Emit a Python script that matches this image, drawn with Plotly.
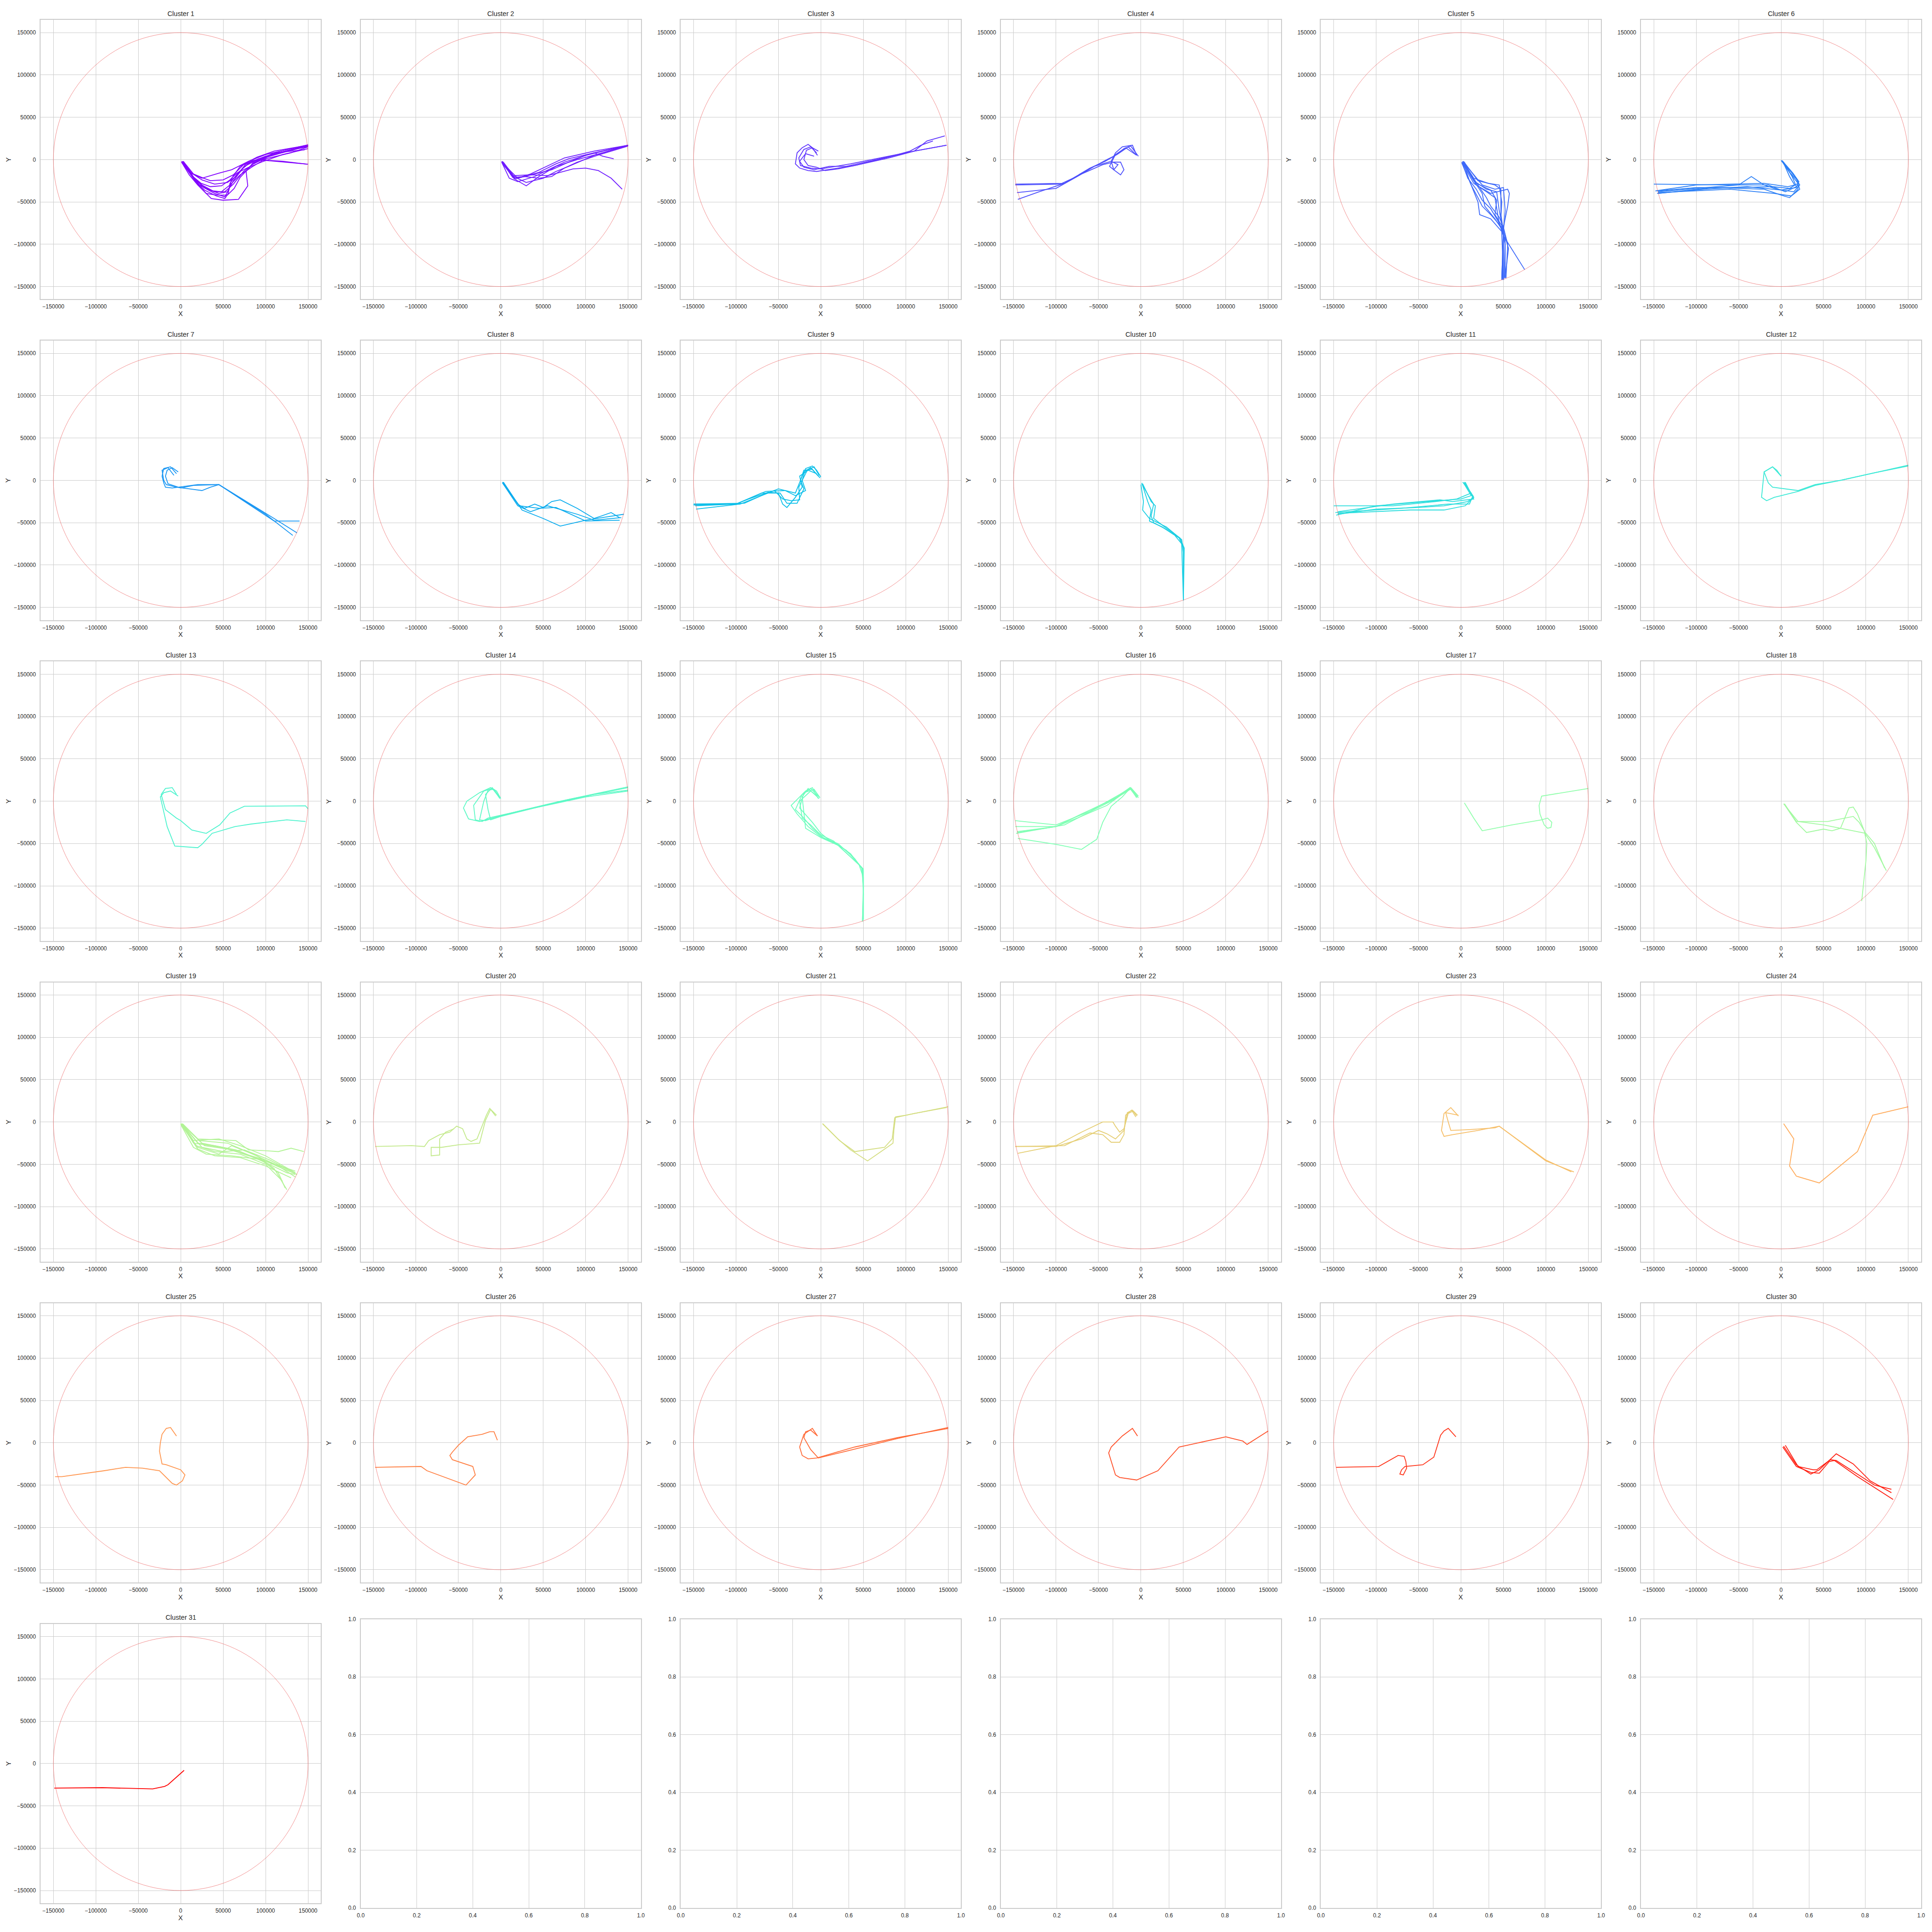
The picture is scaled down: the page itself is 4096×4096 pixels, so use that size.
import plotly.graph_objects as go

# ---------------- data: trajectories per cluster, each a list of (x, y) points ----------------
C01 = [
    [(1000,-3000),(12000,-16000),(25000,-22000),(45000,-16000),(60000,-12000),(80000,-2000),(100000,6000),(150000,17500)],
    [(3000,-2000),(15000,-17000),(27000,-22000),(35000,-25000),(50000,-24000),(62000,-18000),(75000,-5000),(90000,3000),(110000,10000),(150000,17000)],
    [(2000,-3000),(14000,-20000),(22000,-30000),(32000,-35000),(45000,-40000),(55000,-38000),(62000,-25000),(75000,-8000),(95000,2000),(150000,16000)],
    [(1000,-3000),(10000,-18000),(20000,-30000),(36000,-46000),(50000,-48000),(68000,-47000),(79000,-31000),(77000,-14000),(85000,-4000),(110000,8000),(146000,11500)],
    [(3000,-2000),(16000,-22000),(27000,-33000),(40000,-40000),(52000,-44000),(57000,-35000),(60000,-22000),(70000,-8000),(85000,-1000),(100000,-1000),(150000,-5500)],
    [(2000,-3000),(14000,-21000),(25000,-30000),(38000,-37000),(48000,-38000),(58000,-30000),(70000,-18000),(85000,-8000),(100000,1000),(130000,8000),(150000,15000)],
    [(1000,-2000),(17000,-25000),(28000,-36000),(42000,-43000),(52000,-46000),(56000,-40000),(58000,-28000),(68000,-15000),(82000,-3000),(100000,4000),(150000,17000)],
    [(2000,-2000),(13000,-16000),(25000,-24000),(40000,-29000),(55000,-27000),(65000,-20000),(76000,-6000),(92000,1000),(104000,-1000),(120000,-2000),(149000,-5500)],
    [(3000,-3000),(15000,-22000),(30000,-34000),(40000,-38000),(52000,-38000),(62000,-29000),(74000,-14000),(88000,-3000),(110000,7000),(150000,15500)],
    [(1000,-3000),(12000,-18000),(24000,-28000),(35000,-32000),(48000,-31000),(58000,-24000),(66000,-16000),(78000,-10000),(95000,-3000),(120000,6000),(150000,13000)],
    [(2000,-2000),(18000,-27000),(30000,-40000),(42000,-42000),(55000,-42000),(63000,-34000),(70000,-21000),(84000,-6000),(102000,3000),(150000,17000)],
]
C02 = [
    [(2000,-2000),(12000,-18000),(20000,-22000),(40000,-17000),(60000,-12000),(80000,-3000),(100000,5000),(150000,17000)],
    [(3000,-4000),(15000,-20000),(30000,-27000),(50000,-22000),(65000,-14000),(80000,-8000),(110000,5000),(150000,17000)],
    [(1000,-3000),(10000,-22000),(20000,-26000),(40000,-20000),(60000,-10000),(75000,-3000),(110000,8000),(150000,17000)],
    [(2000,-5000),(18000,-24000),(30000,-31000),(45000,-20000),(65000,-8000),(90000,0),(120000,8000),(150000,17000)],
    [(3000,-3000),(15000,-19000),(35000,-18000),(55000,-19000),(70000,-15000),(85000,-11000),(100000,-10000),(115000,-13000),(130000,-22000),(143000,-35000)],
    [(2000,-4000),(20000,-22000),(45000,-15000),(65000,-5000),(80000,1000),(110000,8000),(120000,4000),(133000,1000)],
    [(1000,-2000),(14000,-21000),(28000,-20000),(45000,-22000),(60000,-20000),(75000,-10000),(90000,-3000),(120000,7000),(150000,16000)],
    [(2000,-4000),(16000,-23000),(35000,-17000),(50000,-10000),(75000,2000),(110000,10000),(150000,17000)],
]
C03 = [
    [(-4000,5000),(-10000,14000),(-15000,18000),(-22000,14000),(-28000,8000),(-30000,-5000),(-25000,-10000),(-15000,-13000),(-5000,-14000),(20000,-10000),(40000,-7000),(80000,2000),(110000,10000),(125000,22000),(146000,28000)],
    [(-5000,8000),(-12000,15000),(-20000,12000),(-26000,2000),(-24000,-7000),(-12000,-10000),(0,-11000),(35000,-5000),(80000,4000),(110000,10000),(148000,17000)],
    [(-3000,10000),(-10000,14000),(-17000,11000),(-20000,0),(-15000,-7000),(-5000,-9000),(5000,-13000),(20000,-11000),(40000,-7000),(80000,3000),(105000,10000),(118000,17000),(132000,22000)],
    [(-8000,4000),(-18000,7000),(-25000,-2000),(-20000,-9000),(-8000,-12000),(10000,-8000),(30000,-8000),(70000,1000),(110000,10000),(148000,17000)],
]
C04 = [
    [(-5000,5000),(-10000,17000),(-22000,15000),(-30000,8000),(-35000,-2000),(-32000,-12000),(-24000,-18000),(-20000,-12000),(-24000,-3000),(-32000,-3000),(-45000,-6000),(-70000,-17000),(-90000,-28000),(-148000,-29000)],
    [(-3000,4000),(-12000,16000),(-20000,13000),(-30000,5000),(-42000,-2000),(-60000,-10000),(-90000,-28000),(-120000,-38000),(-145000,-47000)],
    [(-6000,6000),(-15000,15000),(-28000,6000),(-40000,0),(-55000,-8000),(-75000,-20000),(-100000,-34000),(-146000,-39000)],
    [(-5000,5000),(-18000,14000),(-30000,6000),(-37000,-8000),(-32000,-12000),(-27000,-6000),(-35000,-2000),(-55000,-8000),(-80000,-22000),(-95000,-29000),(-148000,-30000)],
]
C05 = [
    [(2000,-3000),(15000,-25000),(30000,-35000),(42000,-38000),(45000,-60000),(50000,-85000),(49000,-140000)],
    [(3000,-2000),(20000,-25000),(40000,-30000),(47000,-35000),(47000,-65000),(50000,-85000),(48000,-142000)],
    [(1000,-4000),(12000,-30000),(20000,-45000),(25000,-55000),(35000,-65000),(48000,-80000),(52000,-100000),(52000,-140000)],
    [(2000,-3000),(18000,-30000),(35000,-40000),(55000,-35000),(57000,-40000),(55000,-55000),(50000,-80000),(55000,-100000),(53000,-140000)],
    [(3000,-4000),(10000,-25000),(20000,-50000),(22000,-65000),(35000,-70000),(48000,-85000),(50000,-142000)],
    [(1000,-3000),(15000,-28000),(30000,-38000),(40000,-45000),(45000,-75000),(50000,-90000),(75000,-130000)],
    [(2000,-2000),(25000,-30000),(40000,-35000),(50000,-33000),(52000,-60000),(50000,-85000),(50000,-141000)],
    [(4000,-3000),(12000,-20000),(25000,-40000),(28000,-55000),(40000,-70000),(50000,-85000),(48000,-140000)],
    [(2000,-2000),(18000,-28000),(35000,-36000),(42000,-48000),(40000,-65000),(48000,-78000),(56000,-105000),(52000,-138000)],
    [(3000,-3000),(15000,-22000),(32000,-28000),(45000,-30000),(48000,-50000),(47000,-70000),(50000,-90000),(49000,-142000)],
    [(1000,-3000),(8000,-22000),(18000,-35000),(25000,-48000),(35000,-58000),(45000,-75000),(52000,-95000),(51000,-140000)],
    [(2000,-3000),(20000,-30000),(30000,-45000),(35000,-55000),(45000,-68000),(50000,-80000),(50000,-142000)],
]
C06 = [
    [(2000,-2000),(10000,-15000),(20000,-25000),(20000,-35000),(10000,-45000),(0,-42000),(-20000,-35000),(-80000,-33000),(-145000,-40000)],
    [(0,-1000),(15000,-18000),(22000,-30000),(15000,-38000),(-5000,-35000),(-20000,-30000),(-35000,-20000),(-50000,-30000),(-100000,-34000),(-145000,-38000)],
    [(3000,-3000),(13000,-20000),(18000,-32000),(5000,-38000),(-15000,-30000),(-60000,-30000),(-150000,-29000)],
    [(1000,-2000),(12000,-18000),(20000,-28000),(10000,-34000),(-10000,-32000),(-50000,-33000),(-100000,-33000),(-145000,-37000)],
    [(2000,-3000),(18000,-22000),(22000,-35000),(12000,-43000),(-8000,-40000),(-60000,-35000),(-145000,-39000)],
    [(2000,-2000),(10000,-20000),(16000,-30000),(8000,-32000),(-20000,-28000),(-100000,-30000),(-148000,-37000)],
    [(1000,-1000),(14000,-16000),(21000,-26000),(18000,-33000),(0,-36000),(-40000,-32000),(-90000,-35000),(-146000,-40000)],
]
C07 = [
    [(-5000,8000),(-12000,16000),(-20000,14000),(-22000,5000),(-20000,-3000),(-18000,-8000),(-10000,-9000),(20000,-5000),(45000,-5000),(110000,-48000),(140000,-48000)],
    [(-8000,6000),(-15000,15000),(-22000,12000),(-20000,0),(-17000,-5000),(-5000,-8000),(10000,-10000),(25000,-12000),(35000,-8000),(45000,-5000),(100000,-40000),(132000,-65000)],
    [(-3000,10000),(-10000,15000),(-16000,12000),(-18000,5000),(-15000,-4000),(0,-9000),(15000,-6000),(45000,-5000),(110000,-45000),(137000,-62000)],
]
C08 = [
    [(2000,-2000),(20000,-28000),(28000,-33000),(40000,-28000),(50000,-32000),(60000,-25000),(70000,-23000),(90000,-33000),(110000,-45000),(130000,-38000),(140000,-44000)],
    [(2000,-3000),(22000,-30000),(45000,-33000),(65000,-32000),(100000,-48000),(140000,-47000)],
    [(3000,-2000),(25000,-35000),(50000,-45000),(70000,-54000),(100000,-47000),(145000,-40000)],
    [(2000,-3000),(20000,-30000),(35000,-37000),(55000,-30000),(90000,-40000),(110000,-47000),(142000,-44000)],
]
C09 = [
    [(0,4000),(-5000,12000),(-10000,17000),(-18000,14000),(-22000,0),(-18000,-12000),(-30000,-18000),(-42000,-12000),(-50000,-10000),(-70000,-18000),(-90000,-27000),(-150000,-28000)],
    [(-2000,6000),(-8000,16000),(-16000,12000),(-22000,0),(-26000,-8000),(-25000,-23000),(-35000,-24000),(-45000,-22000),(-55000,-12000),(-75000,-20000),(-95000,-28000),(-147000,-34000)],
    [(-3000,5000),(-12000,15000),(-20000,10000),(-25000,-2000),(-30000,-15000),(-42000,-12000),(-65000,-13000),(-100000,-28000),(-150000,-29000)],
    [(-5000,8000),(-15000,12000),(-25000,5000),(-22000,-8000),(-30000,-20000),(-40000,-32000),(-45000,-28000),(-50000,-15000),(-70000,-15000),(-100000,-28000),(-148000,-30000)],
    [(-1000,3000),(-10000,13000),(-20000,12000),(-24000,0),(-20000,-10000),(-28000,-27000),(-40000,-27000),(-48000,-15000),(-62000,-14000),(-85000,-22000),(-100000,-28000),(-149000,-28000)],
]
C10 = [
    [(1000,-4000),(10000,-20000),(15000,-28000),(12000,-42000),(15000,-50000),(30000,-58000),(45000,-68000),(50000,-80000),(50000,-142000)],
    [(0,-5000),(3000,-25000),(2000,-35000),(10000,-45000),(30000,-55000),(48000,-70000),(50000,-85000),(50000,-140000)],
    [(1000,-3000),(8000,-25000),(12000,-35000),(10000,-48000),(25000,-55000),(40000,-65000),(48000,-75000),(50000,-140000)],
    [(2000,-4000),(12000,-25000),(17000,-30000),(15000,-45000),(28000,-55000),(46000,-68000),(51000,-80000),(50000,-141000)],
]
C11 = [
    [(5000,-2000),(10000,-12000),(15000,-20000),(8000,-25000),(-20000,-30000),(-50000,-32000),(-100000,-34000),(-145000,-40000)],
    [(3000,-3000),(14000,-18000),(10000,-28000),(-15000,-28000),(-70000,-33000),(-148000,-38000)],
    [(4000,-3000),(15000,-20000),(5000,-30000),(-20000,-35000),(-60000,-35000),(-145000,-39000)],
    [(2000,-2000),(12000,-15000),(-5000,-22000),(-30000,-25000),(-80000,-30000),(-150000,-30000)],
    [(4000,-2000),(15000,-22000),(-10000,-25000),(-25000,-23000),(-80000,-28000),(-145000,-37000)],
    [(3000,-3000),(12000,-18000),(0,-22000),(-40000,-25000),(-100000,-30000),(-147000,-41000)],
]
C12 = [
    [(0,5000),(-5000,12000),(-10000,16000),(-20000,10000),(-21000,0),(-23000,-20000),(-17000,-24000),(-8000,-20000),(0,-18000),(20000,-13000),(40000,-6000),(70000,0),(110000,9000),(150000,18000)],
    [(0,5000),(-10000,16000),(-20000,10000),(-15000,-3000),(-10000,-8000),(5000,-10000),(20000,-12000),(40000,-5000),(70000,0),(110000,9000),(150000,17000)],
]
C13 = [
    [(-5000,8000),(-10000,16000),(-18000,15000),(-23000,8000),(-18000,-10000),(-5000,-20000),(0,-23000),(13000,-34000),(30000,-38000),(46000,-28000),(58000,-14000),(75000,-6000),(147000,-5500),(150000,-9000)],
    [(-3000,6000),(-12000,12000),(-20000,10000),(-24000,5000),(-16000,-30000),(-7000,-53000),(20000,-55000),(25000,-51000),(37000,-38000),(64000,-30000),(83000,-27000),(125000,-22000),(147000,-24000)],
]
C14 = [
    [(0,3000),(-5000,12000),(-12000,16000),(-25000,10000),(-40000,0),(-44000,-8000),(-38000,-21000),(-25000,-24000),(-10000,-20000),(20000,-12000),(70000,0),(150000,17000)],
    [(-2000,5000),(-10000,15000),(-20000,12000),(-32000,-5000),(-30000,-22000),(-22000,-24000),(-15000,-20000),(30000,-10000),(100000,5000),(150000,12000)],
    [(-1000,4000),(-8000,14000),(-15000,13000),(-20000,0),(-25000,-22000),(-18000,-23000),(0,-17000),(50000,-5000),(110000,8000),(150000,13000)],
    [(-1000,3000),(-10000,16000),(-18000,8000),(-15000,-10000),(-12000,-22000),(0,-18000),(80000,2000),(150000,16000)],
]
C15 = [
    [(-3000,3000),(-10000,16000),(-18000,12000),(-35000,-5000),(-28000,-15000),(-15000,-30000),(0,-42000),(15000,-48000),(35000,-62000),(49000,-80000),(50000,-110000),(49000,-142000)],
    [(-2000,5000),(-12000,15000),(-22000,8000),(-30000,-10000),(-20000,-20000),(-10000,-32000),(5000,-45000),(20000,-50000),(40000,-68000),(50000,-82000),(50000,-140000)],
    [(-1000,4000),(-8000,14000),(-20000,10000),(-25000,-8000),(-10000,-25000),(0,-38000),(10000,-46000),(30000,-58000),(48000,-78000),(50000,-100000),(49000,-142000)],
    [(-2000,3000),(-15000,15000),(-22000,5000),(-20000,-15000),(-18000,-32000),(0,-43000),(20000,-52000),(45000,-75000),(50000,-90000),(50000,-140000)],
    [(-4000,6000),(-12000,12000),(-25000,0),(-22000,-20000),(-12000,-28000),(0,-40000),(15000,-47000),(50000,-80000),(50000,-140000)],
]
C16 = [
    [(-4000,5000),(-12000,16000),(-25000,8000),(-60000,-12000),(-100000,-28000),(-148000,-23000)],
    [(-3000,6000),(-11000,15000),(-30000,3000),(-70000,-15000),(-100000,-30000),(-148000,-30000)],
    [(-5000,4000),(-13000,16000),(-35000,0),(-65000,-15000),(-90000,-28000),(-147000,-38000)],
    [(-4000,5000),(-12000,15000),(-28000,5000),(-55000,-8000),(-80000,-20000),(-100000,-30000),(-145000,-37000)],
    [(-3000,4000),(-12000,16000),(-22000,5000),(-35000,-6000),(-45000,-25000),(-52000,-45000),(-70000,-57000),(-100000,-51000),(-145000,-44000)],
    [(-5000,5000),(-13000,15000),(-40000,-5000),(-75000,-20000),(-100000,-30000),(-146000,-36000)],
]
C17 = [
    [(4000,-2000),(15000,-20000),(25000,-35000),(60000,-28000),(95000,-22000),(102000,-20000),(107000,-25000),(106000,-31000),(102000,-32000),(98000,-28000),(93000,-15000),(92000,-5000),(95000,6000),(150000,15000)],
]
C18 = [
    [(4000,-3000),(18000,-24000),(55000,-24000),(85000,-18000),(92000,-25000),(98000,-35000),(101000,-50000),(100000,-70000),(95000,-118000)],
    [(4000,-4000),(18000,-25000),(30000,-37000),(50000,-33000),(60000,-35000),(70000,-32000),(75000,-20000),(80000,-8000),(85000,-7000),(90000,-15000),(100000,-40000),(110000,-55000),(124000,-82000)],
    [(3000,-3000),(20000,-24000),(50000,-28000),(70000,-32000),(100000,-38000),(110000,-50000),(122000,-79000)],
]
C19 = [
    [(1000,-2000),(20000,-20000),(65000,-22000),(80000,-33000),(100000,-34000),(115000,-35000),(130000,-31000),(145000,-35000)],
    [(2000,-3000),(15000,-25000),(35000,-28000),(70000,-35000),(100000,-48000),(125000,-60000),(135000,-62000)],
    [(0,-2000),(20000,-30000),(45000,-38000),(60000,-28000),(90000,-40000),(110000,-55000),(125000,-80000)],
    [(3000,-3000),(25000,-25000),(50000,-30000),(80000,-40000),(110000,-50000),(135000,-58000)],
    [(1000,-4000),(18000,-28000),(40000,-35000),(70000,-38000),(100000,-50000),(120000,-70000)],
    [(2000,-2000),(22000,-22000),(55000,-25000),(85000,-38000),(115000,-52000),(135000,-65000)],
    [(0,-3000),(15000,-30000),(30000,-38000),(60000,-40000),(100000,-45000),(135000,-60000)],
    [(2000,-3000),(25000,-30000),(50000,-35000),(75000,-33000),(105000,-45000),(130000,-58000)],
    [(1000,-2000),(20000,-25000),(40000,-28000),(65000,-33000),(95000,-45000),(115000,-60000),(123000,-78000)],
    [(3000,-4000),(15000,-22000),(45000,-20000),(70000,-28000),(100000,-40000),(135000,-60000)],
    [(0,-2000),(20000,-32000),(40000,-40000),(70000,-42000),(100000,-52000),(130000,-66000)],
    [(2000,-3000),(28000,-28000),(55000,-32000),(90000,-42000),(120000,-55000),(137000,-62000)],
]
C20 = [
    [(-6000,7000),(-13000,16000),(-17000,8000),(-22000,-5000),(-28000,-20000),(-35000,-23000),(-40000,-20000),(-45000,-8000),(-52000,-5000),(-60000,-12000),(-72000,-15000),(-85000,-22000),(-90000,-29000),(-105000,-28000),(-148000,-29000)],
    [(-5000,8000),(-12000,15000),(-18000,2000),(-25000,-25000),(-50000,-27000),(-70000,-30000),(-82000,-30000),(-82000,-40000),(-72000,-39000),(-72000,-20000),(-65000,-12000),(-55000,-8000)],
]
C21 = [
    [(2000,-2000),(12000,-12000),(20000,-20000),(35000,-33000),(55000,-46000),(78000,-30000),(85000,-25000),(86000,-10000),(88000,6000),(100000,8000),(150000,18000)],
    [(2000,-2000),(22000,-22000),(40000,-35000),(60000,-32000),(75000,-30000),(84000,-20000),(87000,5000),(110000,10000),(148000,17000)],
]
C22 = [
    [(-5000,7000),(-10000,14000),(-16000,11000),(-20000,-10000),(-24000,-14000),(-30000,-20000),(-40000,-14000),(-50000,-10000),(-70000,-20000),(-100000,-29000),(-148000,-29000)],
    [(-4000,8000),(-9000,13000),(-15000,10000),(-20000,-8000),(-25000,-12000),(-30000,-5000),(-33000,0),(-45000,0),(-70000,-12000),(-100000,-28000),(-145000,-37000)],
    [(-6000,6000),(-11000,14000),(-18000,8000),(-20000,-15000),(-25000,-24000),(-35000,-24000),(-45000,-15000),(-60000,-13000),(-90000,-28000),(-148000,-29000)],
]
C23 = [
    [(-3000,7000),(-12000,17000),(-20000,10000),(-23000,-10000),(-20000,-17000),(-10000,-15000),(20000,-10000),(45000,-5000),(100000,-45000),(130000,-59000)],
    [(-3000,8000),(-18000,11000),(-15000,0),(-12000,-10000),(10000,-9000),(40000,-7000),(45000,-5000),(100000,-46000),(133000,-59000)],
]
C24 = [
    [(3000,-2000),(15000,-20000),(10000,-52000),(18000,-64000),(45000,-72000),(90000,-35000),(108000,8000),(150000,18000)],
]
C25 = [
    [(-5000,8000),(-12000,18000),(-17000,17000),(-22000,10000),(-24000,0),(-25000,-10000),(-22000,-25000),(-17000,-26000),(0,-32000),(5000,-38000),(2000,-45000),(-5000,-50000),(-10000,-48000),(-25000,-33000),(-45000,-30000),(-65000,-29000),(-90000,-33000),(-140000,-40000),(-148000,-40000)],
]
C26 = [
    [(-4000,3000),(-8000,13000),(-13000,13000),(-22000,10000),(-39000,7000),(-50000,-3000),(-57000,-11000),(-60000,-15000),(-57000,-20000),(-33000,-28000),(-30000,-38000),(-41000,-50000),(-87000,-33000),(-94000,-28000),(-148000,-29000)],
]
C27 = [
    [(-4000,8000),(-10000,17000),(-20000,10000),(-25000,-5000),(-22000,-15000),(-15000,-19000),(-5000,-18000),(40000,-5000),(90000,6000),(150000,17000)],
    [(-4000,8000),(-12000,15000),(-18000,13000),(-20000,6000),(-12000,-8000),(-3000,-18000),(30000,-10000),(90000,5000),(150000,18000)],
]
C28 = [
    [(-4000,8000),(-10000,17000),(-22000,8000),(-35000,-5000),(-38000,-12000),(-30000,-38000),(-25000,-41000),(-5000,-44000),(20000,-33000),(45000,-5000),(100000,7000),(120000,2000),(125000,-2000),(150000,14000)],
]
C29 = [
    [(-6000,7000),(-15000,17000),(-20000,14000),(-24000,9000),(-32000,-17000),(-45000,-26000),(-66000,-28000),(-70000,-32000),(-72000,-37000),(-68000,-38000),(-64000,-30000),(-65000,-22000),(-67000,-16000),(-74000,-15000),(-97000,-28000),(-147000,-29000)],
]
C30 = [
    [(3000,-4000),(18000,-26000),(35000,-37000),(45000,-32000),(65000,-13000),(85000,-25000),(105000,-45000),(130000,-59000)],
    [(5000,-3000),(20000,-28000),(38000,-32000),(42000,-32000),(58000,-20000),(65000,-21000),(110000,-50000),(130000,-55000)],
    [(2000,-5000),(18000,-28000),(35000,-35000),(45000,-36000),(57000,-22000),(63000,-21000),(90000,-40000),(132000,-67000)],
]
C31 = [
    [(4000,-8000),(-15000,-25000),(-19000,-27000),(-33000,-30000),(-92000,-28500),(-149000,-29000)],
]

CLUSTERS = [C01, C02, C03, C04, C05, C06, C07, C08, C09, C10, C11, C12, C13, C14, C15, C16,
            C17, C18, C19, C20, C21, C22, C23, C24, C25, C26, C27, C28, C29, C30, C31]
TITLES = [f"Cluster {i + 1}" for i in range(len(CLUSTERS))]

CIRCLE_RADIUS = 150000
AXIS_LIMIT = 165000
TICK_VALS = [-150000, -100000, -50000, 0, 50000, 100000, 150000]
TICK_TEXT = ["\u2212150000", "\u2212100000", "\u221250000", "0", "50000", "100000", "150000"]
EMPTY_TICK_VALS = [0.0, 0.2, 0.4, 0.6, 0.8, 1.0]
EMPTY_TICK_TEXT = ["0.0", "0.2", "0.4", "0.6", "0.8", "1.0"]

# ---------------- styling ----------------
REF = 4800.0
S = 4096.0 / REF
FONT = "Liberation Sans, Arial, Helvetica, sans-serif"
TXT = "#262626"
GRID = "#cccccc"
TICK_SIZE = 13.9 * S
LABEL_SIZE = 16.7 * S
NROWS, NCOLS = 6, 6


def rainbow(t):
    import math
    r = min(1.0, max(0.0, abs(2 * t - 0.5)))
    g = min(1.0, max(0.0, math.sin(math.pi * t)))
    b = min(1.0, max(0.0, math.cos(math.pi * t / 2)))
    return f"rgb({round(r * 255)},{round(g * 255)},{round(b * 255)})"


fig = go.Figure()
annotations = []
shapes = []
n = len(CLUSTERS)

for k in range(NROWS * NCOLS):
    r, c = divmod(k, NCOLS)
    suffix = "" if k == 0 else str(k + 1)
    left = 101 + c * 795.2
    right = left + 696
    cy = 396.5 + r * 797
    half = 347 if k < n else 358.5
    top, bottom = cy - half, cy + half
    xdom = [left / REF, right / REF]
    ydom = [1 - bottom / REF, 1 - top / REF]

    common = dict(showgrid=True, gridcolor=GRID, gridwidth=1, showline=True, mirror=True,
                  linecolor=GRID, linewidth=1.5, zeroline=False, ticks="",
                  tickfont=dict(family=FONT, size=TICK_SIZE, color=TXT), tickmode="array",
                  fixedrange=True, automargin=False)
    if k < n:
        xa = dict(common, domain=xdom, range=[-AXIS_LIMIT, AXIS_LIMIT], tickvals=TICK_VALS,
                  ticktext=TICK_TEXT, anchor="y" + suffix, ticklabelstandoff=4)
        ya = dict(common, domain=ydom, range=[-AXIS_LIMIT, AXIS_LIMIT], tickvals=TICK_VALS,
                  ticktext=TICK_TEXT, anchor="x" + suffix, ticklabelstandoff=6)
    else:
        xa = dict(common, domain=xdom, range=[0, 1], tickvals=EMPTY_TICK_VALS,
                  ticktext=EMPTY_TICK_TEXT, anchor="y" + suffix, ticklabelstandoff=4)
        ya = dict(common, domain=ydom, range=[0, 1], tickvals=EMPTY_TICK_VALS,
                  ticktext=EMPTY_TICK_TEXT, anchor="x" + suffix, ticklabelstandoff=6)
    fig.update_layout({"xaxis" + suffix: xa, "yaxis" + suffix: ya})

    if k < n:
        color = rainbow(k / (n - 1))
        for traj in CLUSTERS[k]:
            fig.add_trace(go.Scatter(
                x=[p[0] for p in traj], y=[p[1] for p in traj], mode="lines",
                line=dict(color=color, width=1.8), xaxis="x" + suffix, yaxis="y" + suffix,
                hoverinfo="skip", showlegend=False))
        shapes.append(dict(type="circle", xref="x" + suffix, yref="y" + suffix,
                           x0=-CIRCLE_RADIUS, x1=CIRCLE_RADIUS, y0=-CIRCLE_RADIUS, y1=CIRCLE_RADIUS,
                           line=dict(color="rgba(235,80,80,0.8)", width=0.8), layer="above"))
        cx = (left + right) / 2
        annotations.append(dict(text=TITLES[k], xref="paper", yref="paper", x=cx / REF,
                                y=1 - (top - 16) / REF, xanchor="center", yanchor="middle",
                                showarrow=False, font=dict(family=FONT, size=LABEL_SIZE, color=TXT)))
        annotations.append(dict(text="X", xref="paper", yref="paper", x=cx / REF,
                                y=1 - (bottom + 36) / REF, xanchor="center", yanchor="middle",
                                showarrow=False, font=dict(family=FONT, size=LABEL_SIZE, color=TXT)))
        annotations.append(dict(text="Y", xref="paper", yref="paper", x=(left - 80) / REF,
                                y=1 - cy / REF, xanchor="center", yanchor="middle", textangle=-90,
                                showarrow=False, font=dict(family=FONT, size=LABEL_SIZE, color=TXT)))
    else:
        # empty panel: an invisible placeholder trace so the axes are drawn
        fig.add_trace(go.Scatter(x=[None], y=[None], mode="lines", xaxis="x" + suffix,
                                 yaxis="y" + suffix, hoverinfo="skip", showlegend=False))

fig.update_layout(width=4096, height=4096, margin=dict(l=0, r=0, t=0, b=0, autoexpand=False),
                  paper_bgcolor="white", plot_bgcolor="white", showlegend=False,
                  annotations=annotations, shapes=shapes)
fig.write_html("out.html")
